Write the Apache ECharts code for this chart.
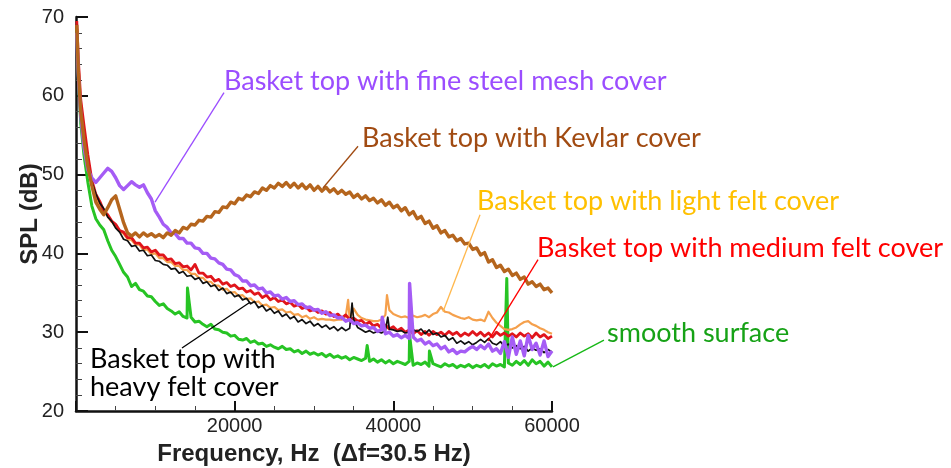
<!DOCTYPE html>
<html><head><meta charset="utf-8">
<script src="https://cdn.jsdelivr.net/npm/echarts@6/dist/echarts.min.js"></script>
<style>html,body{margin:0;padding:0;background:#fff}#c{width:951px;height:468px}</style>
</head><body><div id="c"></div>
<script>
// Frequency samples (Hz)
const freqs = [100,300,600,
1000,1500,2000,2500,3000,3500,4000,4500,5000,5500,
6000,6500,7000,7500,8000,8500,9000,9500,10000,10500,
11000,11500,12000,12500,13000,13500,14000,14500,15000,15500,
16000,16500,17000,17500,18000,18500,19000,19500,20000,20500,
21000,21500,22000,22500,23000,23500,24000,24500,25000,25500,
26000,26500,27000,27500,28000,28500,29000,29500,30000,30500,
31000,31500,32000,32500,33000,33500,34000,34500,35000,35500,
36000,36500,37000,37500,38000,38500,39000,39500,40000,40500,
41000,41500,42000,42500,43000,43500,44000,44500,45000,45500,
46000,46500,47000,47500,48000,48500,49000,49500,50000,50500,
51000,51500,52000,52500,53000,53500,54000,54500,55000,55500,
56000,56500,57000,57500,58000,58500,59000,59500,60000];

const smooth = [68.5,62.0,56.5,
52.5,49.0,46.0,44.4,43.6,43.0,41.6,40.4,39.6,38.6,
37.6,37.0,35.8,36.2,35.4,35.2,34.6,34.5,33.9,33.4,
33.6,33.0,32.7,32.3,32.6,32.0,31.8,31.9,31.3,31.4,
31.0,30.7,31.0,30.4,30.3,30.0,29.9,29.5,29.6,29.1,
29.0,29.2,28.7,28.9,28.5,28.6,28.2,28.4,28.1,27.9,
28.2,27.8,27.9,27.5,27.7,27.3,27.6,27.2,27.4,27.1,
27.3,26.9,27.2,26.8,27.0,26.7,26.9,26.5,26.8,26.6,
26.4,26.7,26.3,26.6,26.2,26.5,26.1,26.4,26.0,26.3,
26.1,25.9,26.3,25.8,26.1,25.9,26.2,25.7,26.0,25.8,
25.6,26.0,25.7,25.9,25.5,25.8,25.6,25.9,25.5,25.8,
25.6,25.9,25.5,26.0,25.7,25.9,25.6,26.1,25.8,26.3,
25.9,26.4,25.8,26.5,26.0,26.3,25.7,26.2,25.6];
const smoothSpikes = [[14050,35.6],[36700,28.3],[42050,29.6],[44550,27.6],[54300,36.8]];

const heavyFelt = [69.0,63.0,58.0,
54.0,51.2,49.0,47.6,46.4,45.7,44.6,44.1,43.2,42.7,
41.8,41.6,40.9,41.0,40.3,40.4,39.7,39.8,39.1,39.0,
38.6,38.5,38.0,38.1,37.5,37.7,37.1,37.2,36.7,36.9,
36.2,36.4,35.8,36.0,35.3,35.6,34.9,35.1,34.5,34.7,
34.1,34.3,33.6,33.9,33.1,33.4,32.7,33.0,32.4,32.7,
32.0,32.3,31.7,32.0,31.3,31.6,31.1,31.4,30.8,31.1,
30.6,30.9,30.4,30.7,30.2,30.6,30.2,30.5,31.6,30.6,
30.3,30.0,30.2,29.9,30.1,29.9,30.2,30.4,30.3,30.1,
30.2,29.9,30.0,30.3,30.1,30.4,29.8,30.3,29.7,29.9,
29.4,29.6,29.0,29.3,28.6,28.9,28.5,28.8,28.4,28.7,
29.1,28.7,29.2,28.6,28.4,28.8,28.2,28.5,28.0,28.3,
27.9,28.2,27.6,28.0,27.7,27.9,27.4,27.8,27.5];
const heavyFeltSpikes = [[34800,33.7],[39300,31.9]];

const lightFelt = [69.0,63.5,58.5,
55.0,51.6,48.6,47.2,46.2,45.3,44.7,44.0,43.4,42.8,
42.5,41.8,41.7,41.1,41.1,40.4,40.5,39.9,40.0,39.4,
39.4,38.9,38.9,38.4,38.4,37.9,37.9,37.4,37.4,36.9,
36.9,36.4,36.4,35.9,35.9,35.4,35.5,35.0,35.1,34.6,
34.7,34.2,34.3,33.8,33.9,33.4,33.5,33.1,33.2,32.8,
32.9,32.5,32.6,32.2,32.3,31.9,32.1,31.7,31.9,31.6,
31.7,31.6,31.6,31.5,31.6,31.6,32.0,31.7,33.0,32.2,
31.8,31.6,31.5,31.4,31.4,31.6,32.2,32.8,32.3,32.1,
31.9,32.0,31.8,32.1,31.9,32.0,32.2,31.9,32.3,32.5,
33.2,32.6,32.5,32.2,32.0,31.8,31.7,31.9,31.6,31.5,
31.6,31.4,32.6,31.8,31.2,30.8,30.4,30.3,30.4,30.6,
31.0,31.3,31.4,31.0,30.8,30.5,30.3,30.0,29.8];
const lightFeltSpikes = [[34300,34.1],[39200,34.7]];

const mediumFelt = [69.5,64.5,59.5,
56.3,52.5,49.3,47.5,46.6,45.4,44.9,44.1,43.7,42.9,
42.7,42.0,42.0,41.3,41.3,40.7,40.8,40.2,40.4,39.8,
39.8,39.2,39.3,38.7,38.8,38.3,38.4,37.9,38.6,37.5,
37.5,37.0,37.1,36.5,36.7,36.1,36.3,35.8,36.0,35.5,
35.6,35.1,35.3,34.8,35.0,34.4,34.7,34.1,34.4,33.9,
34.1,33.6,33.8,33.3,33.5,33.0,33.2,32.7,32.9,32.5,
32.7,32.3,32.5,32.0,32.3,31.8,32.2,31.6,31.8,31.4,
31.5,31.0,31.3,30.8,31.0,30.5,30.9,30.4,30.7,30.2,
30.5,30.0,30.3,29.8,30.2,29.7,30.1,29.6,30.1,29.7,
30.0,29.6,30.1,29.7,30.0,29.5,29.9,29.6,30.1,29.6,
30.0,29.5,29.9,29.4,30.0,29.6,29.9,29.5,29.8,29.4,
29.9,29.5,29.8,29.3,29.9,29.4,29.7,29.2,29.5];

const steelMesh = [68.0,62.5,57.5,
53.5,50.6,49.6,49.0,49.6,50.2,50.8,50.4,49.6,48.6,
48.1,48.6,49.1,48.7,48.4,48.7,47.7,46.9,45.4,44.6,
43.7,43.3,42.6,42.5,41.9,41.9,41.3,41.3,40.7,40.6,
40.0,40.0,39.4,39.3,38.8,38.6,38.0,37.9,37.3,37.1,
36.5,36.5,35.9,36.0,35.5,35.6,35.0,35.1,34.6,34.7,
34.2,34.4,33.9,34.0,33.5,33.6,33.1,33.2,32.8,32.9,
32.4,32.6,32.1,32.2,31.8,31.9,31.4,31.6,31.1,31.2,
30.8,30.9,30.5,30.6,30.1,30.3,29.8,30.0,29.5,29.7,
29.3,29.6,29.2,29.4,28.9,29.1,28.5,28.8,28.3,28.5,
27.9,28.2,27.5,27.8,27.3,27.6,27.5,27.9,28.2,27.8,
28.3,27.9,28.5,27.6,27.9,27.3,28.8,26.8,29.4,27.2,
28.9,27.0,29.6,27.8,28.6,27.1,28.9,26.9,27.6];
const steelMeshSpikes = [[38600,31.9],[42050,36.2]];

const kevlar = [69.0,63.0,58.0,
54.5,51.0,48.6,46.5,45.6,44.9,45.8,46.8,47.3,45.6,
43.9,42.6,42.2,42.6,42.1,42.6,42.2,42.5,42.1,42.4,
42.0,42.6,42.3,42.9,42.6,43.3,43.1,43.7,43.6,44.2,
44.1,44.7,44.6,45.3,45.2,45.9,45.8,46.5,46.3,47.0,
46.8,47.4,47.2,47.8,47.6,48.3,48.0,48.6,48.3,48.9,
48.5,49.0,48.4,48.9,48.3,48.8,48.2,48.7,48.0,48.5,
47.9,48.4,47.8,48.2,47.6,48.0,47.5,47.8,47.1,47.5,
46.9,47.3,46.7,47.0,46.4,46.8,46.1,46.5,45.8,46.1,
45.4,45.8,44.9,45.3,44.4,44.7,43.8,44.1,43.2,43.5,
42.6,42.9,42.1,42.3,41.6,41.9,41.2,41.3,40.5,40.7,
39.8,40.1,38.9,39.2,38.2,38.5,37.7,38.0,37.2,37.5,
36.7,37.0,36.1,36.4,35.8,36.1,35.4,35.6,35.0];

const xTicks = [0, 20000, 40000, 60000];
const yTicks = [20, 30, 40, 50, 60, 70];

function build(vals, spikes) {
  const pts = freqs.map((f, i) => [f, vals[i]]);
  (spikes || []).forEach(s => pts.push([s[0], s[1]]));
  pts.sort((a, b) => a[0] - b[0]);
  return pts;
}

const chart = echarts.init(document.getElementById('c'), null, {renderer: 'canvas'});
const labelFont = 'Liberation Sans, Arial, sans-serif';
const annFont = 'Lato, "Open Sans", sans-serif';

function line(name, data, color, width) {
  return {name, type: 'line', data, showSymbol: false, symbol: 'none',
    lineStyle: {color, width, join: 'round'}, clip: true, z: 2};
}

chart.setOption({
  animation: false,
  backgroundColor: '#fff',
  grid: {left: 76, right: 399, top: 17, bottom: 57, containLabel: false, outerBoundsMode: 'none'},
  xAxis: {
    type: 'value', min: xTicks[0], max: xTicks[xTicks.length - 1], interval: 20000,
    axisLine: {show: true, onZero: false, lineStyle: {color: '#111', width: 2.5}},
    axisTick: {show: true, inside: true, length: 10, lineStyle: {color: '#111', width: 2}},
    minorTick: {show: true, splitNumber: 4, length: 5, lineStyle: {color: '#444', width: 1}},
    splitLine: {show: false},
    axisLabel: {formatter: v => v === 0 ? '' : String(v), fontSize: 20, color: '#222', fontFamily: labelFont, margin: 5},
    name: 'Frequency, Hz  (\u0394f=30.5 Hz)', nameLocation: 'middle', nameGap: 31,
    nameTextStyle: {fontSize: 24, fontWeight: 'bold', color: '#222', fontFamily: labelFont}
  },
  yAxis: {
    type: 'value', min: yTicks[0], max: yTicks[yTicks.length - 1], interval: 10,
    axisLine: {show: true, onZero: false, lineStyle: {color: '#111', width: 2.5}},
    axisTick: {show: true, inside: true, length: 12, lineStyle: {color: '#111', width: 2}},
    minorTick: {show: true, splitNumber: 5, length: 6, lineStyle: {color: '#444', width: 1}},
    splitLine: {show: false},
    axisLabel: {fontSize: 20, color: '#222', fontFamily: labelFont, margin: 12},
    name: 'SPL (dB)', nameLocation: 'middle', nameGap: 34, nameMoveOverlap: false,
    nameTextStyle: {fontSize: 24, fontWeight: 'bold', color: '#222', fontFamily: labelFont}
  },
  series: [
    line('smooth surface', build(smooth, smoothSpikes), '#27c424', 3),
    line('light felt', build(lightFelt, lightFeltSpikes), '#f5a04c', 2.2),
    line('medium felt', build(mediumFelt), '#e0151b', 2.8),
    line('heavy felt', build(heavyFelt, heavyFeltSpikes), '#111111', 1.7),
    line('fine steel mesh', build(steelMesh, steelMeshSpikes), '#a55cf5', 3.4),
    line('Kevlar', build(kevlar), '#b5651d', 3.4)
  ]
});

// Annotations: anchored in data coordinates
const annotations = [
  {text: 'Basket top with fine steel mesh cover', color: '#9b4dff', pos: [18655, 61.8], from: [18655, 60.4], to: [9960, 46.5], lineColor: '#9b4dff'},
  {text: 'Basket top with Kevlar cover', color: '#a14b12', pos: [36050, 54.6], from: [35550, 53.6], to: [31130, 48.3], lineColor: '#a14b12'},
  {text: 'Basket top with light felt cover', color: '#ffc000', pos: [50545, 46.6], from: [50930, 44.9], to: [46260, 32.6], lineColor: '#ffb84d'},
  {text: 'Basket top with medium felt cover', color: '#ff0000', pos: [58110, 40.6], from: [58240, 39.2], to: [51930, 28.9], lineColor: '#ff0000'},
  {text: 'smooth surface', color: '#16a216', pos: [66930, 29.8], from: [66550, 29.0], to: [60130, 25.6], lineColor: '#16b816'},
  {text: 'Basket top with\nheavy felt cover', color: '#000', pos: [1765, 24.8], from: [13360, 28.0], to: [21930, 33.8], lineColor: '#000'}
];
const g = [];
annotations.forEach(a => {
  const p = chart.convertToPixel({gridIndex: 0}, a.pos);
  const f = chart.convertToPixel({gridIndex: 0}, a.from);
  const t = chart.convertToPixel({gridIndex: 0}, a.to);
  g.push({type: 'line', shape: {x1: f[0], y1: f[1], x2: t[0], y2: t[1]}, style: {stroke: a.lineColor, lineWidth: 1.3}, z: 10});
  g.push({type: 'text', x: p[0], y: p[1], style: {text: a.text, fill: a.color, font: '27px ' + annFont, textVerticalAlign: 'middle', textAlign: 'left', lineHeight: 28}, z: 11});
});
chart.setOption({graphic: g});
</script>
</body></html>
